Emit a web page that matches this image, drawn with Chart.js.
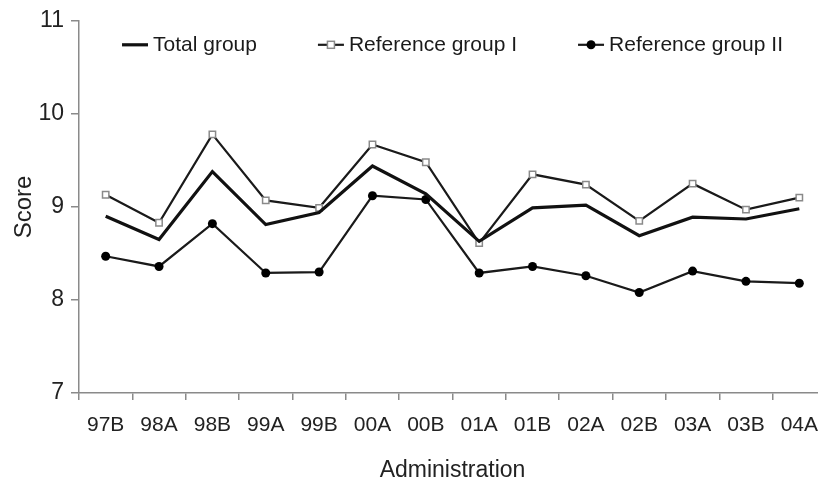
<!DOCTYPE html>
<html>
<head>
<meta charset="utf-8">
<script src="https://cdn.jsdelivr.net/npm/chart.js@4.4.0/dist/chart.umd.min.js"></script>
<style>
  html, body { margin: 0; padding: 0; background: #fff; overflow: hidden; }
  #wrap { width: 832px; height: 484px; position: relative; }
</style>
</head>
<body>
<div id="wrap"><canvas id="scoreChart"></canvas></div>
<script>
const administrations = ['97B', '98A', '98B', '99A', '99B', '00A', '00B', '01A', '01B', '02A', '02B', '03A', '03B', '04A'];
const totalGroup = [8.90, 8.65, 9.38, 8.81, 8.94, 9.44, 9.14, 8.63, 8.99, 9.02, 8.69, 8.89, 8.87, 8.98];
const referenceGroup1 = [9.13, 8.83, 9.78, 9.07, 8.99, 9.67, 9.48, 8.61, 9.35, 9.24, 8.85, 9.25, 8.97, 9.10];
const referenceGroup2 = [8.47, 8.36, 8.82, 8.29, 8.30, 9.12, 9.08, 8.29, 8.36, 8.26, 8.08, 8.31, 8.20, 8.18];
const yTicks = [7, 8, 9, 10, 11];

const fontFamily = '"Liberation Sans", Arial, sans-serif';
const axisGray = '#8a8a8a';

// legend drawn inside the plot area, one row across the top
const insideLegend = {
  id: 'insideLegend',
  afterDraw(chart) {
    const ctx = chart.ctx;
    const area = chart.chartArea;
    const sym = 26, textGap = 5, itemGap = 61;
    ctx.save();
    ctx.font = '21px ' + fontFamily;
    const items = chart.data.datasets.map(ds => ({ ds, w: sym + textGap + ctx.measureText(ds.label).width }));
    const total = items.reduce((s, it) => s + it.w, 0) + itemGap * (items.length - 1);
    let x = (area.left + area.right) / 2 - total / 2;
    const y = area.top + 24;
    items.forEach(({ ds, w }) => {
      ctx.strokeStyle = ds.borderColor;
      ctx.lineWidth = ds.borderWidth;
      ctx.beginPath();
      ctx.moveTo(x, y);
      ctx.lineTo(x + sym, y);
      ctx.stroke();
      const cx = x + sym / 2;
      if (ds.pointStyle === 'rect') {
        ctx.fillStyle = ds.pointBackgroundColor;
        ctx.strokeStyle = ds.pointBorderColor;
        ctx.lineWidth = ds.pointBorderWidth;
        ctx.fillRect(cx - 3.5, y - 3.5, 7, 7);
        ctx.strokeRect(cx - 3.5, y - 3.5, 7, 7);
      } else if (ds.pointRadius > 0) {
        ctx.fillStyle = ds.pointBackgroundColor;
        ctx.beginPath();
        ctx.arc(cx, y, ds.pointRadius, 0, Math.PI * 2);
        ctx.fill();
      }
      ctx.fillStyle = '#1a1a1a';
      ctx.textBaseline = 'middle';
      ctx.textAlign = 'left';
      ctx.fillText(ds.label, x + sym + textGap, y);
      x += w + itemGap;
    });
    ctx.restore();
  }
};

new Chart(document.getElementById('scoreChart'), {
  type: 'line',
  data: {
    labels: administrations,
    datasets: [
      {
        label: 'Total group', data: totalGroup,
        borderColor: '#111', borderWidth: 3.2, pointRadius: 0, tension: 0
      },
      {
        label: 'Reference group I', data: referenceGroup1,
        borderColor: '#1a1a1a', borderWidth: 2.2, tension: 0,
        pointStyle: 'rect', pointRadius: 4.5, pointBackgroundColor: '#fff',
        pointBorderColor: '#8a8a8a', pointBorderWidth: 1.5
      },
      {
        label: 'Reference group II', data: referenceGroup2,
        borderColor: '#1a1a1a', borderWidth: 2.2, tension: 0,
        pointStyle: 'circle', pointRadius: 4.5, pointBackgroundColor: '#000',
        pointBorderColor: '#000', pointBorderWidth: 0
      }
    ]
  },
  options: {
    responsive: true,
    maintainAspectRatio: false,
    animation: false,
    layout: { padding: { top: 17, left: 10, right: 0, bottom: 0 } },
    plugins: { legend: { display: false }, tooltip: { enabled: false } },
    scales: {
      x: {
        offset: true,
        grid: { offset: true, drawOnChartArea: false, drawTicks: true, tickLength: 7, color: axisGray, lineWidth: 1.5 },
        border: { color: axisGray, width: 1.5 },
        ticks: { color: '#222', padding: 13, font: { family: fontFamily, size: 21 }, maxRotation: 0, autoSkip: false },
        title: { display: true, text: 'Administration', color: '#222', font: { family: fontFamily, size: 23 }, padding: { top: 0, bottom: 0 } },
        afterFit(scale) { scale.height = 91; }
      },
      y: {
        min: yTicks[0], max: yTicks[yTicks.length - 1],
        afterBuildTicks(scale) { scale.ticks = yTicks.map(v => ({ value: v })); },
        grid: { drawOnChartArea: false, drawTicks: true, tickLength: 8, color: axisGray, lineWidth: 1.5 },
        border: { color: axisGray, width: 1.5 },
        ticks: { color: '#222', padding: 7, font: { family: fontFamily, size: 23 } },
        title: { display: true, text: 'Score', color: '#222', font: { family: fontFamily, size: 24 }, padding: { top: 0, bottom: 0 } },
        afterFit(scale) { scale.width = 69; }
      }
    }
  },
  plugins: [insideLegend]
});
</script>
</body>
</html>
